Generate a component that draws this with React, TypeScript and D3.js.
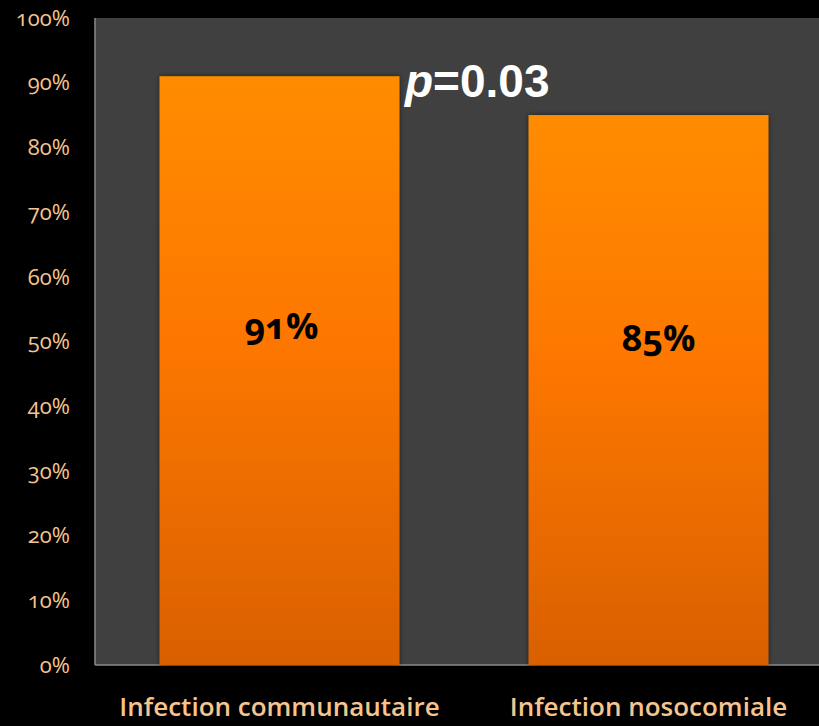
import React from "react";
import * as d3 from "d3";

const categories = ["Infection communautaire", "Infection nosocomiale"];
const values = [91, 85];
const valueLabels = ["91%", "85%"];
const tickValues = [0, 10, 20, 30, 40, 50, 60, 70, 80, 90, 100];
const pValueText = "0.03";

const W = 819;
const H = 726;
const plotLeft = 95;
const plotTop = 18;
const plotBottom = 665;

export default function App() {
  const x = d3
    .scaleBand<string>()
    .domain(categories)
    .range([plotLeft, 833])
    .paddingInner(0.35)
    .paddingOuter(0.175);
  const y = d3.scaleLinear().domain([0, 100]).range([plotBottom, plotTop]);

  const labelFont = "'Open Sans', Lato, 'Noto Sans', sans-serif";
  const noLig = { fontVariantLigatures: "none" as const };

  return (
    <div style={{ position: "fixed", left: 0, top: 0, width: W, height: H, background: "#000" }}>
      <svg width={W} height={H} style={{ display: "block" }}>
        <defs>
          <linearGradient id="barFill" x1="0" y1="0" x2="0" y2="1">
            <stop offset="0%" stopColor="#ff8c00" />
            <stop offset="45%" stopColor="#fd7700" />
            <stop offset="100%" stopColor="#d96000" />
          </linearGradient>
          <filter id="barShadow" x="-10%" y="-10%" width="120%" height="120%">
            <feDropShadow dx="0" dy="0" stdDeviation="2.5" floodColor="#000" floodOpacity="0.55" />
          </filter>
        </defs>
        <rect x={0} y={0} width={W} height={H} fill="#000" />
        {/* plot area */}
        <rect x={plotLeft} y={plotTop} width={W - plotLeft} height={plotBottom - plotTop} fill="#404040" />
        <line x1={plotLeft} x2={plotLeft} y1={plotTop} y2={plotBottom} stroke="#8a8a8a" strokeWidth={1.5} />
        <line x1={plotLeft} x2={W} y1={plotBottom} y2={plotBottom} stroke="#8a8a8a" strokeWidth={1.5} />

        {/* y-axis tick labels */}
        {tickValues.map((t) => (
          <text
            key={t}
            x={70}
            y={y(t)}
            dy="0.35em"
            textAnchor="end"
            fill="#f7c48e"
            fontFamily={labelFont}
            fontSize={22}
            style={{ fontVariantNumeric: "oldstyle-nums" }}
          >
            {t}%
          </text>
        ))}

        {/* bars */}
        {categories.map((c, i) => (
          <rect
            key={c}
            x={x(c)}
            y={y(values[i])}
            width={x.bandwidth()}
            height={plotBottom - y(values[i])}
            fill="url(#barFill)"
            filter="url(#barShadow)"
          />
        ))}

        {/* value labels */}
        {categories.map((c, i) => (
          <text
            key={c + "-v"}
            x={(x(c) as number) + x.bandwidth() / 2 + (i === 0 ? 2 : 10)}
            y={i === 0 ? 339 : 351}
            textAnchor="middle"
            fill="#000"
            fontFamily={labelFont}
            fontWeight="bold"
            fontSize={36}
            style={{ fontVariantNumeric: "oldstyle-nums" }}
          >
            {valueLabels[i]}
          </text>
        ))}

        {/* category labels */}
        {categories.map((c) => (
          <text
            key={c + "-c"}
            x={(x(c) as number) + x.bandwidth() / 2}
            y={716}
            textAnchor="middle"
            fill="#f7c48e"
            fontFamily={labelFont}
            fontWeight={600}
            fontSize={26}
            style={noLig}
          >
            {c}
          </text>
        ))}

        {/* significance */}
        <text
          x={405}
          y={97}
          fill="#fff"
          fontFamily="'Liberation Sans', Arial, sans-serif"
          fontWeight="bold"
          fontSize={46}
        >
          <tspan fontStyle="italic">p</tspan>
          <tspan>={pValueText}</tspan>
        </text>
      </svg>
    </div>
  );
}
